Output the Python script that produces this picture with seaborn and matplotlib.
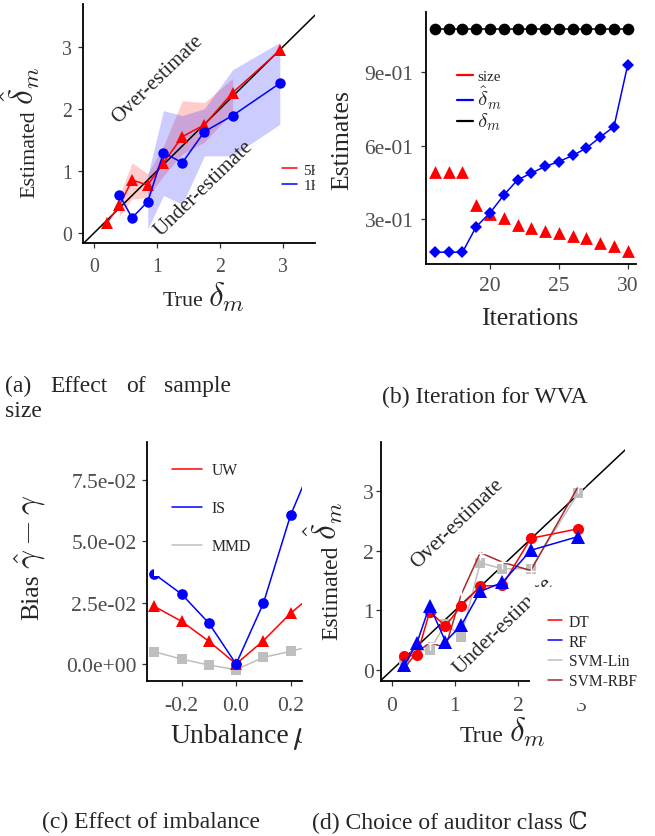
import matplotlib
matplotlib.use("Agg")
import matplotlib.pyplot as plt
from matplotlib.lines import Line2D
from matplotlib.patches import Rectangle
from matplotlib.transforms import Bbox, TransformedBbox
import seaborn as sns

# ---- (a) effect of sample size ----
true_a = [0.2, 0.4, 0.6, 0.85, 1.1, 1.4, 1.75, 2.2, 2.95]
est_5k = [0.16, 0.44, 0.85, 0.77, 1.13, 1.55, 1.74, 2.26, 2.94]
true_1k = [0.4, 0.6, 0.85, 1.1, 1.4, 1.75, 2.2, 2.95]
est_1k = [0.61, 0.24, 0.50, 1.29, 1.13, 1.63, 1.89, 2.41]
band_5k_x = [0.4, 0.6, 0.85, 1.1, 1.4, 1.75, 2.2]
band_5k_lo = [0.27, 0.54, 0.57, 0.92, 1.27, 1.46, 1.95]
band_5k_hi = [0.60, 1.13, 0.95, 1.40, 2.13, 2.10, 2.49]
band_1k_x = [0.85, 1.1, 1.4, 1.75, 2.2, 2.95]
band_1k_lo = [0.06, 0.60, 0.46, 1.24, 1.24, 1.75]
band_1k_hi = [0.93, 1.97, 1.89, 2.00, 2.63, 3.07]

# ---- (b) iterations for WVA ----
iters = list(range(16, 31))
size_b = [0.494, 0.494, 0.494, 0.357, 0.320, 0.303, 0.277, 0.262, 0.250,
          0.241, 0.229, 0.221, 0.200, 0.188, 0.168]
dhat_b = [0.164, 0.164, 0.164, 0.269, 0.325, 0.398, 0.460, 0.488, 0.515,
          0.535, 0.560, 0.590, 0.635, 0.678, 0.931]
delta_b = [1.077] * len(iters)

# ---- (c) effect of imbalance ----
mu = [-0.3, -0.2, -0.1, 0.0, 0.1, 0.2, 0.3]
bias_uw = [0.0235, 0.0174, 0.0093, 0.0, 0.0095, 0.0207, 0.0300]
bias_is = [0.0367, 0.0285, 0.0167, 0.0, 0.0247, 0.0607, 0.0870]
bias_mmd = [0.0050, 0.0020, -0.0004, -0.0023, 0.0027, 0.0052, 0.0080]

# ---- (d) auditor class ----
true_d = [0.2, 0.4, 0.6, 0.85, 1.1, 1.4, 1.75, 2.2, 2.95]
est_dt = [0.23, 0.25, 0.98, 0.74, 1.08, 1.41, 1.42, 2.21, 2.37]
est_rf = [0.08, 0.46, 1.08, 0.48, 0.75, 1.32, 1.47, 2.01, 2.24]
est_lin = [0.17, 0.33, 0.33, 0.78, 0.56, 1.80, 1.70, 1.70, 2.97]
est_rbf = [0.04, 0.30, 0.46, 0.38, 1.27, 1.97, 1.81, 1.67, 3.08]

sns.set_style("ticks")
plt.rcParams["font.family"] = ["Liberation Serif", "DejaVu Serif"]
plt.rcParams["mathtext.fontset"] = "cm"

W, H = 655, 837
fig = plt.figure(figsize=(W / 100, H / 100), dpi=100)
renderer = fig.canvas.get_renderer()


def rect(l, r, t, b):
    return [l / W, 1 - b / H, (r - l) / W, (b - t) / H]


def fp(x, y):
    return (x / W, 1 - y / H)


TICK_C = "#4D4D4D"


def style(ax, tick_fs, xpad, ypad):
    sns.despine(ax=ax)
    for s in ["left", "bottom"]:
        ax.spines[s].set_linewidth(1.3)
        ax.spines[s].set_color("black")
    ax.tick_params(axis="both", length=3.8, width=0.9, color="#333333",
                   labelcolor=TICK_C, labelsize=tick_fs)
    ax.tick_params(axis="x", pad=xpad)
    ax.tick_params(axis="y", pad=ypad)
    ax.set_facecolor("none")


def axis_label(x, y, plain, math, fs, mfs, vertical=False, clip_x=None, gap=5):
    # plain words followed by a larger math part, as in the R plotmath labels
    rot = 90 if vertical else 0
    t1 = fig.text(*fp(x, y), plain, fontsize=fs, rotation=rot,
                  rotation_mode="anchor", ha="left", va="baseline")
    if math is None:
        return
    bb = t1.get_window_extent(renderer)
    if vertical:
        pos = (x / W, (bb.y1 + gap) / H)
    else:
        pos = ((bb.x1 + gap) / W, 1 - y / H)
    t2 = fig.text(*pos, math, fontsize=mfs, rotation=rot,
                  rotation_mode="anchor", ha="left", va="baseline")
    if clip_x is not None:
        t2.set_clip_box(TransformedBbox(Bbox([[0, 0], [clip_x / W, 1]]),
                                        fig.transFigure))
        t2.set_clip_on(True)


# ================= (a) =================
axa = fig.add_axes(rect(83, 315, 5, 244))
axa.fill_between(band_5k_x, band_5k_lo, band_5k_hi, color="red", alpha=0.2, lw=0, zorder=1)
axa.fill_between(band_1k_x, band_1k_lo, band_1k_hi, color="blue", alpha=0.2, lw=0, zorder=1)
axa.axline((0, 0), (1, 1), color="black", lw=1.1, zorder=2)
sns.lineplot(x=true_a, y=est_5k, ax=axa, color="red", lw=1.1, marker="^",
             markersize=9, markeredgewidth=0, legend=False)
sns.lineplot(x=true_1k, y=est_1k, ax=axa, color="blue", lw=1.1, marker="o",
             markersize=7.5, markeredgewidth=0, legend=False)
axa.set_xlim(-0.18, 3.51)
axa.set_ylim(-0.166, 3.69)
axa.set_xticks([0, 1, 2, 3], ["0", "1", "2", "3"])
axa.set_yticks([0, 1, 2, 3], ["0", "1", "2", "3"])
style(axa, 14.2, 6.5, 4)
axa.text(1.01, 2.48, "Over-estimate", rotation=44, rotation_mode="anchor",
         ha="center", va="center", fontsize=15)
axa.text(1.74, 0.72, "Under-estimate", rotation=44, rotation_mode="anchor",
         ha="center", va="center", fontsize=15)
leg = axa.legend(handles=[Line2D([], [], color="red", lw=1.1),
                          Line2D([], [], color="blue", lw=1.1)],
                 labels=["5K", "1K"], loc="center left",
                 bbox_to_anchor=fp(281.7, 178.7), bbox_transform=fig.transFigure,
                 frameon=False, borderpad=0, borderaxespad=0, fontsize=10.8,
                 handlelength=1.0, handletextpad=0.45, labelspacing=0.15)
for art in leg.get_lines() + leg.get_texts():
    art.set_clip_box(axa.bbox)
    art.set_clip_on(True)
axis_label(162.3, 306, "True", r"$\delta_m$", 15.8, 24)
axis_label(34.3, 198, "Estimated", r"$\hat{\delta}_m$", 15.8, 24, vertical=True)

# ================= (b) =================
axb = fig.add_axes(rect(425.7, 636, 13, 265))
sns.lineplot(x=iters, y=delta_b, ax=axb, color="black", lw=1.1, marker="o",
             markersize=8.4, markeredgewidth=0, legend=False)
sns.lineplot(x=iters, y=dhat_b, ax=axb, color="blue", lw=1.1, marker="D",
             markersize=6.0, markeredgewidth=0, legend=False)
sns.scatterplot(x=iters, y=size_b, ax=axb, color="red", marker="^", s=85,
                linewidth=0, legend=False)
axb.set_xlim(15.33, 30.6)
axb.set_ylim(0.116, 1.147)
axb.set_xticks([20, 25, 30], ["20", "25", "30"])
axb.set_yticks([0.3, 0.6, 0.9], ["3e-01", "6e-01", "9e-01"])
style(axb, 15.5, 5, 5)
legb = axb.legend(handles=[Line2D([], [], color="red", lw=1.6),
                           Line2D([], [], color="blue", lw=1.6),
                           Line2D([], [], color="black", lw=1.6)],
                  labels=["size", r"$\hat{\delta}_m$", r"$\delta_m$"], loc="center left",
                  bbox_to_anchor=fp(456.7, 102), bbox_transform=fig.transFigure,
                  frameon=False, borderpad=0, borderaxespad=0, fontsize=11,
                  handlelength=1.05, handletextpad=0.3, labelspacing=0.0)
for t in legb.get_texts()[1:]:
    t.set_fontsize(15)
axis_label(481, 325, "Iterations", None, 18.5, None)
axis_label(348.3, 190, "Estimates", None, 18.5, None, vertical=True)

# ================= (c) =================
axc = fig.add_axes(rect(146.7, 302.3, 443.3, 681.7))
sns.lineplot(x=mu, y=bias_mmd, ax=axc, color="#BEBEBE", lw=1.1, marker="s",
             markersize=6.8, markeredgewidth=0, legend=False)
sns.lineplot(x=mu, y=bias_uw, ax=axc, color="red", lw=1.1, marker="^",
             markersize=9, markeredgewidth=0, legend=False)
sns.lineplot(x=mu, y=bias_is, ax=axc, color="blue", lw=1.1, marker="o",
             markersize=7.7, markeredgewidth=0, legend=False)
axc.set_xlim(-0.328, 0.243)
axc.set_ylim(-0.0068, 0.0904)
axc.set_xticks([-0.2, 0.0, 0.2], ["-0.2", "0.0", "0.2"])
axc.set_yticks([0, 0.025, 0.05, 0.075], ["0.0e+00", "2.5e-02", "5.0e-02", "7.5e-02"])
style(axc, 15.5, 7.5, 3.5)
axc.add_patch(Rectangle(fp(154, 577), 108 / W, 130 / H, transform=fig.transFigure,
                        facecolor="white", edgecolor="none", zorder=4, clip_on=False))
axc.legend(handles=[Line2D([], [], color="red", lw=1.1),
                    Line2D([], [], color="blue", lw=1.1),
                    Line2D([], [], color="#BEBEBE", lw=1.1)],
           labels=["UW", "IS", "MMD"], loc="center left",
           bbox_to_anchor=fp(171.7, 509.3), bbox_transform=fig.transFigure,
           frameon=False, borderpad=0, borderaxespad=0, fontsize=11.3,
           handlelength=1.96, handletextpad=0.59, labelspacing=1.4)
axis_label(170, 743.3, "Unbalance", r"$\mu$", 20, 24, clip_x=302.3, gap=3)
axis_label(38.3, 620, "Bias", r"$\hat{\gamma} - \gamma$", 18.5, 24, vertical=True)

# ================= (d) =================
axd = fig.add_axes(rect(381, 625, 443.3, 681.7))
axd.axline((0, 0), (1, 1), color="black", lw=1.1, zorder=2)
sns.lineplot(x=true_d, y=est_lin, ax=axd, color="#BEBEBE", lw=1.1, marker="s",
             markersize=7.2, markeredgewidth=0, legend=False)
sns.lineplot(x=true_d, y=est_rbf, ax=axd, color="#A52A2A", lw=1.1, marker="+",
             markersize=10, markeredgewidth=1.0, legend=False)
sns.lineplot(x=true_d, y=est_dt, ax=axd, color="red", lw=1.1, marker="o",
             markersize=8, markeredgewidth=0, legend=False)
sns.lineplot(x=true_d, y=est_rf, ax=axd, color="blue", lw=1.1, marker="^",
             markersize=9.6, markeredgewidth=0, legend=False)
axd.set_xlim(-0.17, 3.69)
axd.set_ylim(-0.177, 3.82)
axd.set_xticks([0, 1, 2, 3], ["0", "1", "2", "3"])
axd.set_yticks([0, 1, 2, 3], ["0", "1", "2", "3"])
style(axd, 15.5, 7.5, 1.5)
axd.text(1.03, 2.47, "Over-estimate", rotation=44, rotation_mode="anchor",
         ha="center", va="center", fontsize=15.3)
axd.text(1.76, 0.76, "Under-estimate", rotation=44, rotation_mode="anchor",
         ha="center", va="center", fontsize=15.3)
axd.add_patch(Rectangle(fp(530, 704), 125 / W, 116 / H, transform=fig.transFigure,
                        facecolor="white", edgecolor="none", zorder=4, clip_on=False))
axd.legend(handles=[Line2D([], [], color="red", lw=1.1),
                    Line2D([], [], color="blue", lw=1.1),
                    Line2D([], [], color="#BEBEBE", lw=1.1),
                    Line2D([], [], color="#A52A2A", lw=1.1)],
           labels=["DT", "RF", "SVM-Lin", "SVM-RBF"], loc="center left",
           bbox_to_anchor=fp(548, 652.5), bbox_transform=fig.transFigure,
           frameon=False, borderpad=0, borderaxespad=0, fontsize=11.2,
           handlelength=0.92, handletextpad=0.4, labelspacing=0.25)
axis_label(460, 741.7, "True", r"$\delta_m$", 17, 24)
axis_label(337, 640, "Estimated", r"$\hat{\delta}_m$", 17, 24, vertical=True)

# ================= captions =================
cap = 17
for word, x in [("(a)", 5), ("Effect", 50), ("of", 126), ("sample", 164)]:
    fig.text(*fp(x, 391.7), word, fontsize=cap, va="baseline", ha="left")
fig.text(*fp(5, 416.7), "size", fontsize=cap, va="baseline", ha="left")
fig.text(*fp(381.7, 403.3), "(b) Iteration for WVA", fontsize=cap, va="baseline")
fig.text(*fp(41.7, 827.7), "(c) Effect of imbalance", fontsize=cap, va="baseline")
fig.text(*fp(311.7, 827.7), "(d) Choice of auditor class \u2102", fontsize=cap,
         va="baseline")

fig.savefig("out.png", dpi=100)
